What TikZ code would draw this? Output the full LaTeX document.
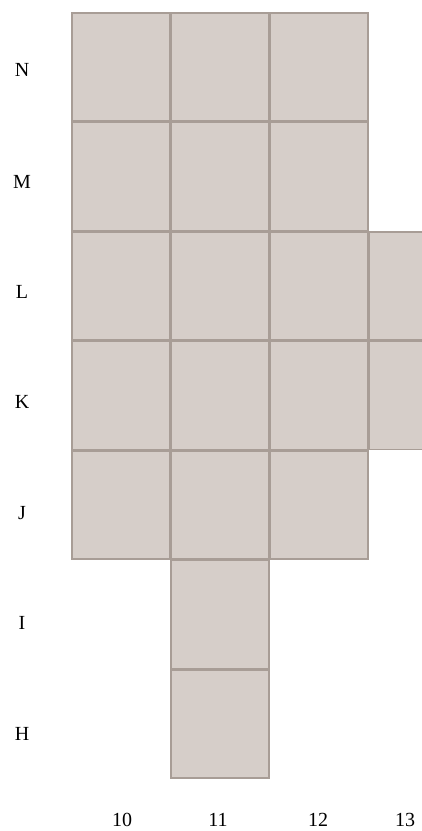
\documentclass[tikz,border=0pt]{standalone}
\usepackage{fontspec}
\setmainfont{Liberation Serif}
\begin{document}
\begin{tikzpicture}[x=1pt,y=-1pt,
  cellbox/.style={draw=cellline,fill=cellfill,line width=1.1pt},
  lab/.style={font=\fontsize{20}{20}\selectfont,text=black,inner sep=0pt,text height=13.5pt,text depth=0pt}]
\definecolor{cellfill}{RGB}{214,206,201}
\definecolor{cellline}{RGB}{168,157,150}
\useasboundingbox (0,0) rectangle (422,831);
\clip (0,0) rectangle (422,831);
% rows: index 0=N ... 6=H
\foreach \r/\cols in {0/{0,1,2},1/{0,1,2},2/{0,1,2,3},3/{0,1,2,3},4/{0,1,2},5/{1},6/{1}}{
  \foreach \c in \cols {
    \pgfmathsetmacro{\xa}{72+99*\c}
    \pgfmathsetmacro{\ya}{13+109.5*\r}
    \draw[cellbox] (\xa,\ya) rectangle ++(98,108);
  }
}
\node[lab] (rN) at (22,70) {N};
\node[lab] (rM) at (22,182) {M};
\node[lab] (rL) at (22,292) {L};
\node[lab] (rK) at (22,402) {K};
\node[lab] (rJ) at (22,513) {J};
\node[lab] (rI) at (22,623) {I};
\node[lab] (rH) at (22,734) {H};
\node[lab] (c10) at (122,820) {10};
\node[lab] (c11) at (218,820) {11};
\node[lab] (c12) at (318,820) {12};
\node[lab] (c13) at (405,820) {13};
\end{tikzpicture}
\end{document}
